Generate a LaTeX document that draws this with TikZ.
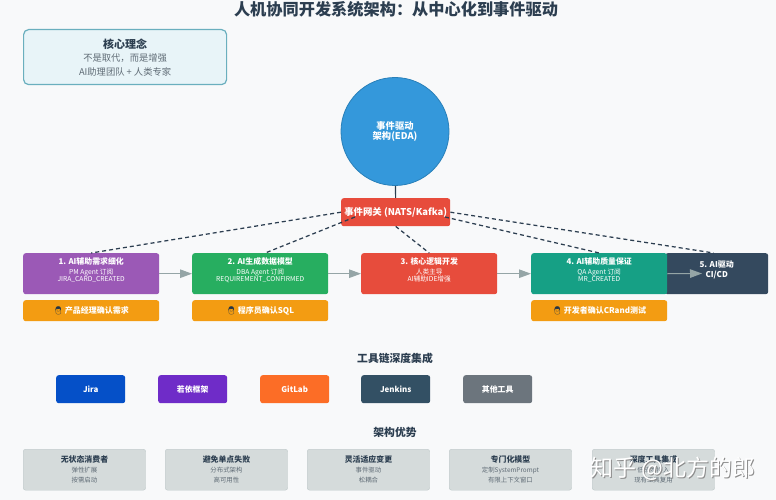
\documentclass[tikz,border=0pt]{standalone}
\usepackage{fontspec}
\setmainfont{Noto Sans CJK SC}
\newfontfamily\emojifont{Noto Emoji}
\usetikzlibrary{arrows.meta,calc}
\definecolor{bgc}{HTML}{F8F9FA}
\definecolor{ink}{HTML}{2C3E50}
\definecolor{subink}{HTML}{5F6B75}
\definecolor{corefill}{HTML}{E8F4F8}
\definecolor{coreline}{HTML}{6AAFBE}
\definecolor{eda}{HTML}{3498DB}
\definecolor{edaline}{HTML}{2980B9}
\definecolor{gwred}{HTML}{E74C3C}
\definecolor{purp}{HTML}{9B59B6}
\definecolor{grn}{HTML}{27AE60}
\definecolor{teal2}{HTML}{16A085}
\definecolor{navy}{HTML}{34495E}
\definecolor{humanc}{HTML}{F39C12}
\definecolor{arrowc}{HTML}{95A5A6}
\definecolor{advfill}{HTML}{D5DBDB}
\definecolor{advline}{HTML}{BFC9CA}
\definecolor{jiraB}{RGB}{5,80,200}
\definecolor{ruoyi}{RGB}{111,44,200}
\definecolor{gitlabO}{RGB}{252,109,38}
\definecolor{jenk}{RGB}{51,80,100}
\definecolor{othert}{RGB}{108,117,125}
\tikzset{
  x=1pt,y=-1pt,
  box/.style={draw=none,rounded corners=2.5pt,anchor=north west,inner sep=0pt,align=center,text=white},
  stage/.style={box,minimum width=136pt,minimum height=41pt,font=\fontsize{6.7}{7}\selectfont},
  human/.style={box,minimum width=136pt,minimum height=21pt,fill=humanc,font=\fontsize{8}{9}\selectfont\bfseries},
  tool/.style={box,minimum width=69pt,minimum height=28pt,font=\fontsize{7.9}{9}\selectfont\bfseries},
  adv/.style={box,draw=advline,fill=advfill,text=subink,minimum width=122.5pt,minimum height=41pt,font=\fontsize{6.4}{10}\selectfont},
  heading/.style={text=ink,font=\fontsize{10.8}{12}\selectfont\bfseries},
  flow/.style={draw=arrowc,line width=1.1pt,-{Triangle[length=12pt,width=8.5pt]}},
  bus/.style={draw=ink,line width=1.25pt,dash pattern=on 4pt off 3pt},
  mark text/.style={font=\fontsize{23}{26}\selectfont},
}
\newcommand{\stagetitle}[1]{{\fontsize{7.9}{10}\selectfont\bfseries #1}\\[2.8pt]}
\newcommand{\advtitle}[1]{{\fontsize{7.9}{10}\selectfont\bfseries\color{ink} #1}\\}
\newcommand{\who}{{\emojifont\color{ink!85!black}👨}\,}
\begin{document}
\begin{tikzpicture}
\useasboundingbox (0,0) rectangle (776,500);
\fill[bgc] (0,0) rectangle (776,500);
\node[text=ink,font=\fontsize{16.2}{18}\selectfont\bfseries] (title) at (396,9.5) {人机协同开发系统架构：从中心化到事件驱动};
\node[box,draw=coreline,line width=1.2pt,fill=corefill,rounded corners=5pt,minimum width=203pt,minimum height=55pt,text=subink,font=\fontsize{9.3}{13.5}\selectfont] (core) at (23,29)
  {{\fontsize{11}{13.5}\selectfont\bfseries\color{ink}核心理念}\\不是取代，而是增强\\AI助理团队 + 人类专家};
\node[circle,draw=edaline,line width=.8pt,fill=eda,minimum size=108pt,inner sep=0pt,align=center,text=white,font=\fontsize{9.3}{10.5}\selectfont\bfseries] (eda) at (395,131.5) {事件驱动\\架构(EDA)};
\node[box,fill=gwred,minimum width=109pt,minimum height=28pt,font=\fontsize{9.4}{11}\selectfont\bfseries] (gw) at (341,198) {事件网关 (NATS/Kafka)};
\draw[ink,line width=1.1pt] (eda) -- (gw);
% stages
\node[stage,fill=purp] (s1) at (23,253) {\stagetitle{1. AI辅助需求细化}PM Agent 订阅\\JIRA\_CARD\_CREATED\\[2pt]};
\node[stage,fill=grn] (s2) at (192,253) {\stagetitle{2. AI生成数据模型}DBA Agent 订阅\\REQUIREMENT\_CONFIRMED\\[2pt]};
\node[stage,fill=gwred] (s3) at (361,253) {\stagetitle{3. 核心逻辑开发}人类主导\\AI辅助IDE增强\\[2pt]};
\node[stage,fill=navy,minimum width=103pt,font=\fontsize{8}{10}\selectfont\bfseries] (s5) at (665,253) {5. AI驱动\\CI/CD\\~};
\node[stage,fill=teal2] (s4) at (531,253) {\stagetitle{4. AI辅助质量保证}QA Agent 订阅\\MR\_CREATED\\[2pt]};
% human checks
\node[human] (h1) at (23,300) {\who 产品经理确认需求};
\node[human] (h2) at (192,300) {\who 程序员确认SQL};
\node[human] (h4) at (531,300) {\who 开发者确认CRand测试};
% flow
\draw[flow] (s1) -- (s2);
\draw[flow] (s2) -- (s3);
\draw[flow] (s3) -- (s4);
\coordinate (s5in) at (702,273.5);
\draw[flow] (s4.east) -- (s5in);
% bus
\coordinate (gwL) at (355,217);
\coordinate (gwR) at (445,217);
\draw[bus] (gw.west) -- (s1.north);
\draw[bus] (gwL) -- ($(s2.north)+(5,0)$);
\draw[bus] (gw.south) -- (s3.north);
\draw[bus] (gwR) -- (s4.north);
\draw[bus] (gw.east) -- ($(s5.north)+(-3,0)$);
% tools
\node[heading] (toolhead) at (395,358) {工具链深度集成};
\node[tool,fill=jiraB] (t1) at (56,375) {Jira};
\node[tool,fill=ruoyi] (t2) at (158,375) {若依框架};
\node[tool,fill=gitlabO] (t3) at (260,375) {GitLab};
\node[tool,fill=jenk] (t4) at (361,375) {Jenkins};
\node[tool,fill=othert] (t5) at (463,375) {其他工具};
% advantages
\node[heading] (advhead) at (395,432) {架构优势};
\node[adv] (a1) at (23,449) {\advtitle{无状态消费者}弹性扩展\\按需启动};
\node[adv] (a2) at (165,449) {\advtitle{避免单点失败}分布式架构\\高可用性};
\node[adv] (a3) at (307,449) {\advtitle{灵活适应变更}事件驱动\\松耦合};
\node[adv] (a4) at (449,449) {\advtitle{专门化模型}定制SystemPrompt\\有限上下文窗口};
\node[adv] (a5) at (592,449) {\advtitle{深度工具集成}低成本接入\\现有工具复用};
% watermark
\node[text=black!45,mark text] (wm0) at (673.7,469.6) {知乎 @北方的郎};
\node[text=white,mark text] (wm) at (673,469) {知乎 @北方的郎};
\end{tikzpicture}
\end{document}
